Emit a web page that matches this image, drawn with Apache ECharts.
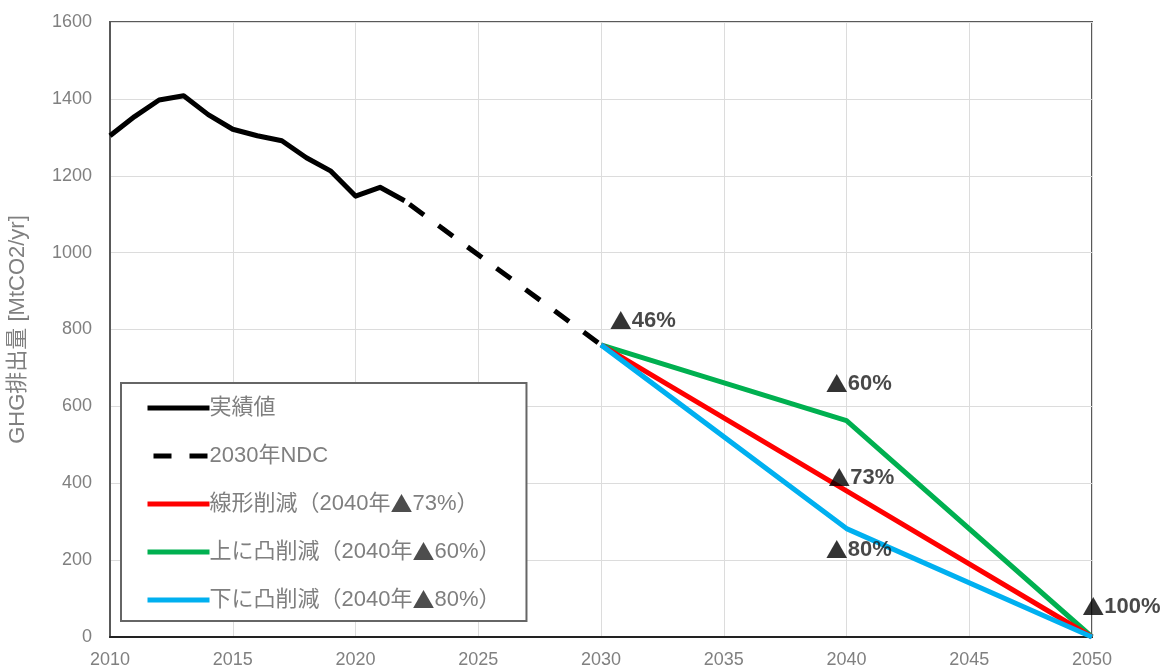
<!DOCTYPE html>
<html>
<head>
<meta charset="utf-8">
<script src="https://cdn.jsdelivr.net/npm/echarts@6/dist/echarts.min.js"></script>
<style>
html,body{margin:0;padding:0;background:#fff;}
#chart{width:1164px;height:670px;}
</style>
</head>
<body>
<div id="chart"></div>
<script>
// ---- data ----
const actualYears = [2010,2011,2012,2013,2014,2015,2016,2017,2018,2019,2020,2021,2022];
const actualValues = [1304,1354,1397,1408,1359,1321,1304,1291,1247,1212,1147,1170,1135];
const ndcYears = [2022,2030];
const ndcValues = [1135,760];
const pathYears = [2030,2040,2050];
const linearValues = [760,380,0];
const upperValues = [760,563,0];
const lowerValues = [760,282,0];
const seriesNames = ['実績値','2030年NDC','線形削減（2040年▲73%）','上に凸削減（2040年▲60%）','下に凸削減（2040年▲80%）'];
const noteTexts = ['▲46%','▲60%','▲73%','▲80%','▲100%'];
const noteYears = [2031.7,2040.5,2040.6,2040.5,2051.2];
const noteValues = [823,659,414,227,78];
const xTicks = {min:2010,max:2050,interval:5};
const yTicks = {min:0,max:1600,interval:200};

const FONT = "'Liberation Sans','Noto Sans CJK JP',sans-serif";
const CJK = "'Noto Sans CJK JP',sans-serif";
const zip = (xs, ys) => xs.map((x,i)=>[x, ys[i]]);
// wrap the ▲ glyph in a rich-text style so it renders large like the original
const richTri = s => s.split('▲').map((p,i)=> (i>0 ? '{t|▲}' : '') + (p ? '{n|' + p + '}' : '')).join('');

const chart = echarts.init(document.getElementById('chart'));
chart.setOption({
  animation:false,
  backgroundColor:'#fff',
  textStyle:{fontFamily:FONT},
  grid:{left:110,right:72,top:22,bottom:33,outerBoundsMode:'none',containLabel:false,
        show:true,borderColor:'#595959',borderWidth:2,backgroundColor:'transparent'},
  legend:{
    orient:'vertical',left:121,top:383,
    data:seriesNames,
    itemWidth:62,itemHeight:20,itemGap:26,
    padding:[14,26,10,24],
    borderColor:'#666',borderWidth:2,backgroundColor:'#fff',
    itemStyle:{opacity:0},
    lineStyle:{width:5},
    formatter:name=>richTri(name),
    textStyle:{fontSize:22,color:'#7f7f7f',fontFamily:FONT,padding:[0,0,0,-5],
      rich:{
        n:{fontSize:22,color:'#7f7f7f',fontFamily:FONT},
        t:{fontSize:22,color:'#4d4d4d',fontFamily:CJK}
      }},
    selectedMode:false
  },
  xAxis:{
    type:'value',min:xTicks.min,max:xTicks.max,interval:xTicks.interval,
    axisLine:{show:true,lineStyle:{color:'#222',width:2}},
    axisTick:{show:false},
    axisLabel:{color:'#808080',fontSize:18,margin:14,fontFamily:FONT,formatter:v=>String(v)},
    splitLine:{show:true,lineStyle:{color:'#dcdcdc',width:1}}
  },
  yAxis:{
    type:'value',min:yTicks.min,max:yTicks.max,interval:yTicks.interval,
    name:'GHG排出量 [MtCO2/yr]',nameLocation:'middle',nameGap:81,nameRotate:90,
    nameTextStyle:{color:'#808080',fontSize:22,fontFamily:FONT},
    axisLine:{show:true,lineStyle:{color:'#595959',width:2}},
    axisTick:{show:false},
    axisLabel:{color:'#808080',fontSize:18,margin:18,fontFamily:FONT,formatter:v=>String(v)},
    splitLine:{show:true,lineStyle:{color:'#dcdcdc',width:1}}
  },
  series:[
    {name:seriesNames[0],type:'line',data:zip(actualYears,actualValues),symbol:'none',
     lineStyle:{color:'#000',width:5,join:'round'},itemStyle:{color:'#000'},z:5},
    {name:seriesNames[1],type:'line',data:zip(ndcYears,ndcValues),symbol:'none',
     lineStyle:{color:'#000',width:5,type:[18,18],dashOffset:-6},itemStyle:{color:'#000'},z:5},
    {name:seriesNames[3],type:'line',data:zip(pathYears,upperValues),symbol:'none',
     lineStyle:{color:'#00B050',width:5},itemStyle:{color:'#00B050'},z:3},
    {name:seriesNames[2],type:'line',data:zip(pathYears,linearValues),symbol:'none',
     lineStyle:{color:'#FF0000',width:5},itemStyle:{color:'#FF0000'},z:4},
    {name:seriesNames[4],type:'line',data:zip(pathYears,lowerValues),symbol:'none',
     lineStyle:{color:'#00B0F0',width:5},itemStyle:{color:'#00B0F0'},z:5},
    {name:'notes',type:'scatter',symbol:'circle',symbolSize:1,itemStyle:{color:'transparent'},
     silent:true,z:10,clip:false,
     data:noteYears.map((x,i)=>({value:[x,noteValues[i]],name:noteTexts[i]})),
     label:{show:true,position:'inside',formatter:p=>richTri(p.name),
       rich:{
         t:{fontSize:22,color:'#000',fontWeight:'bold',fontFamily:CJK},
         n:{fontSize:22,fontWeight:'bold',color:'#1a1a1a',fontFamily:FONT}
       }}}
  ]
});
</script>
</body>
</html>
